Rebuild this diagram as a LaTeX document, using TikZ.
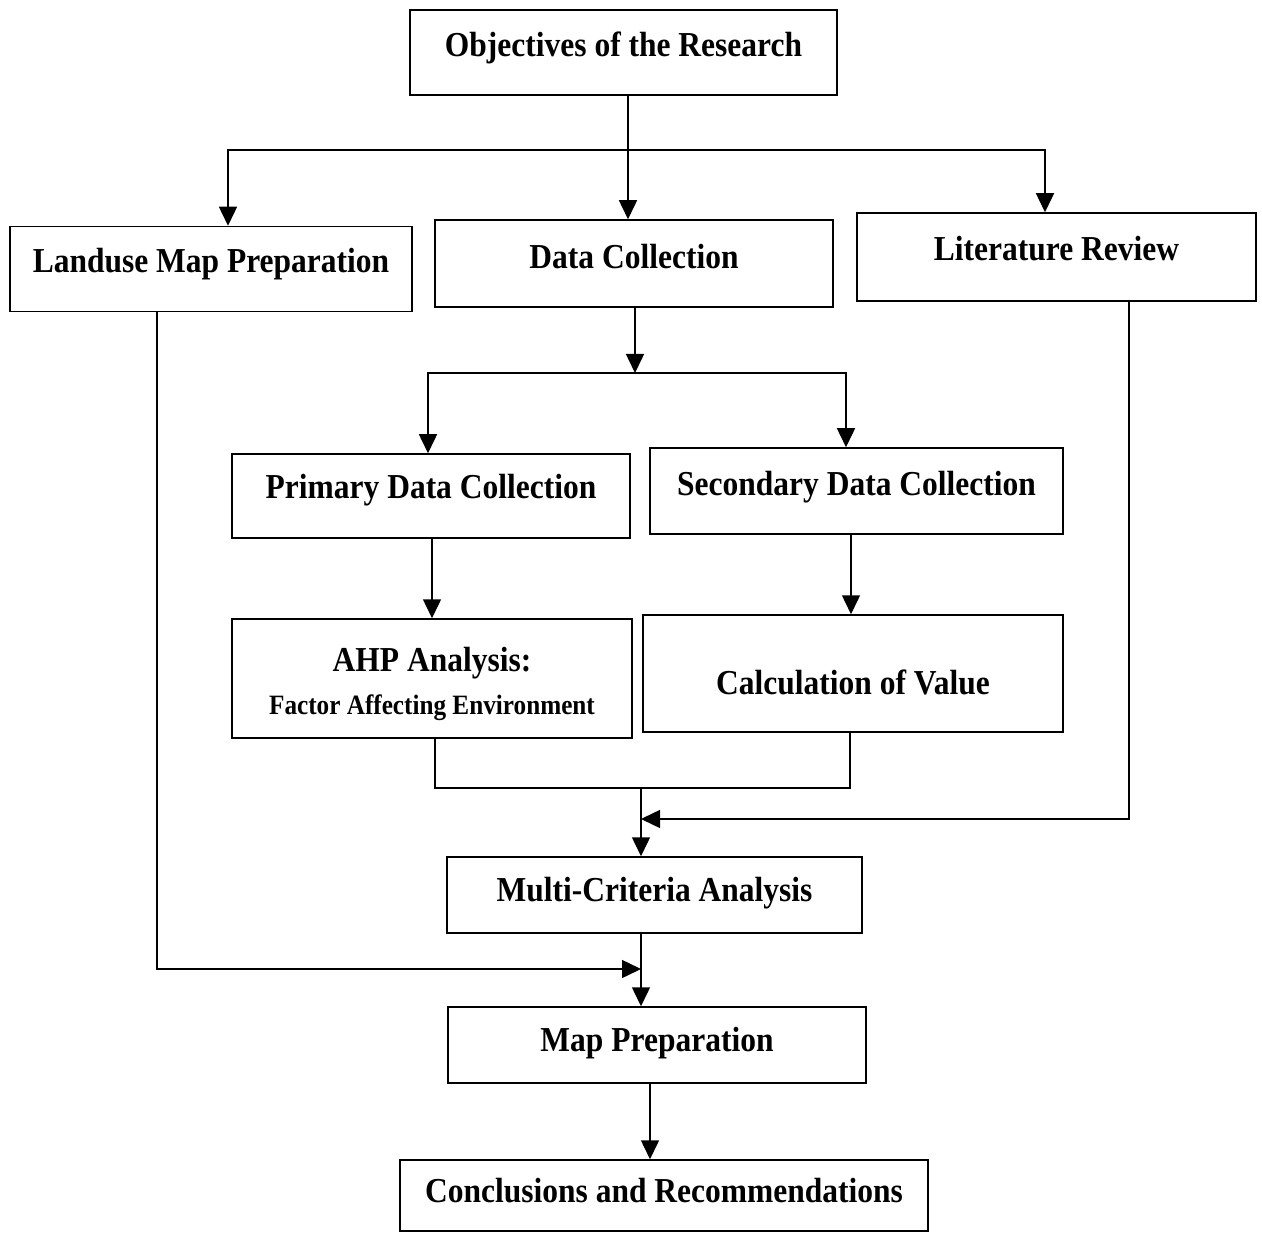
\documentclass[tikz,border=0pt]{standalone}
\usepackage{fontspec}
\setmainfont{Liberation Serif}[FakeStretch=0.9]
\usetikzlibrary{arrows.meta,calc}
\begin{document}
\begin{tikzpicture}[x=1pt,y=-1pt,
  box/.style={draw,line width=1.5pt,rectangle,inner sep=0pt,
    font=\fontsize{35}{40}\selectfont\bfseries,text height=24pt,text depth=16pt},
  txt/.style={inner sep=0pt,anchor=base},
  line/.style={line width=1.5pt},
  arr/.style={line width=1.5pt,-{Triangle[length=19pt,width=18pt]}}]
\useasboundingbox (0,0) rectangle (1262,1233);
% boxes
\node[box,minimum width=427pt,minimum height=85pt] (obj) at (623.5,52.5) {Objectives of the Research};
\node[box,minimum width=402pt,minimum height=85pt] (land) at (211,269) {Landuse Map Preparation};
\node[box,minimum width=398pt,minimum height=87pt,text depth=14pt] (dc) at (634,263.5) {Data Collection};
\node[box,minimum width=399pt,minimum height=88pt] (lit) at (1056.5,257) {Literature Review};
\node[box,minimum width=398pt,minimum height=84pt,text depth=19pt] (prim) at (431,496) {Primary Data Collection};
\node[box,minimum width=413pt,minimum height=86pt] (sec) at (856.5,491) {Secondary Data Collection};
\node[box,minimum width=400pt,minimum height=119pt] (ahp) at (432,678.5) {};
\node[txt,font=\fontsize{35}{40}\selectfont\bfseries] (ahpa) at ($(ahp.north)+(0,53)$) {AHP Analysis:};
\node[txt,font=\fontsize{28}{32}\selectfont\bfseries] (ahpb) at ($(ahp.north)+(0,96)$) {Factor Affecting Environment};
\node[box,minimum width=420pt,minimum height=117pt,text height=46pt,text depth=5pt] (calc) at (853,673.5) {Calculation of Value};
\node[box,minimum width=415pt,minimum height=76pt,text depth=12pt] (mca) at (654.5,895) {Multi-Criteria Analysis};
\node[box,minimum width=418pt,minimum height=76pt,text depth=11pt] (mapp) at (657,1045) {Map Preparation};
\node[box,minimum width=528pt,minimum height=71pt,text depth=10pt] (conc) at (664,1195.5) {Conclusions and Recommendations};
% junction coordinates
\coordinate (j1) at (628,150);
\coordinate (bl) at (228,150);
\coordinate (br) at (1045,150);
\coordinate (j2) at (635,373);
\coordinate (j2l) at (428,373);
\coordinate (j2r) at (846,373);
\coordinate (xp) at (432,0);
\coordinate (xs) at (851,0);
\coordinate (ja) at (435,788);
\coordinate (jc) at (850,788);
\coordinate (jm) at (641,788);
\coordinate (jl) at (1129,819);
\coordinate (jlm) at (641,819);
\coordinate (lu) at (157,969);
\coordinate (lum) at (641,969);
\coordinate (xm) at (650,0);
% connectors
\draw[arr] (obj.south -| j1) -- (j1 |- dc.north);
\draw[arr] (j1) -- (bl) -- (bl |- land.north);
\draw[arr] (j1) -- (br) -- (br |- lit.north);
\draw[arr] (dc.south -| j2) -- (j2);
\draw[arr] (j2) -- (j2l) -- (j2l |- prim.north);
\draw[arr] (j2) -- (j2r) -- (j2r |- sec.north);
\draw[arr] (prim.south -| xp) -- (xp |- ahp.north);
\draw[arr] (sec.south -| xs) -- (xs |- calc.north);
\draw[line] (ahp.south -| ja) -- (ja) -- (jc) -- (calc.south -| jc);
\draw[arr] (jm) -- (jm |- mca.north);
\draw[arr] (lit.south -| jl) -- (jl) -- (jlm);
\draw[arr] (mca.south -| jm) -- (jm |- mapp.north);
\draw[arr] (land.south -| lu) -- (lu) -- (lum);
\draw[arr] (mapp.south -| xm) -- (xm |- conc.north);
\end{tikzpicture}
\end{document}
